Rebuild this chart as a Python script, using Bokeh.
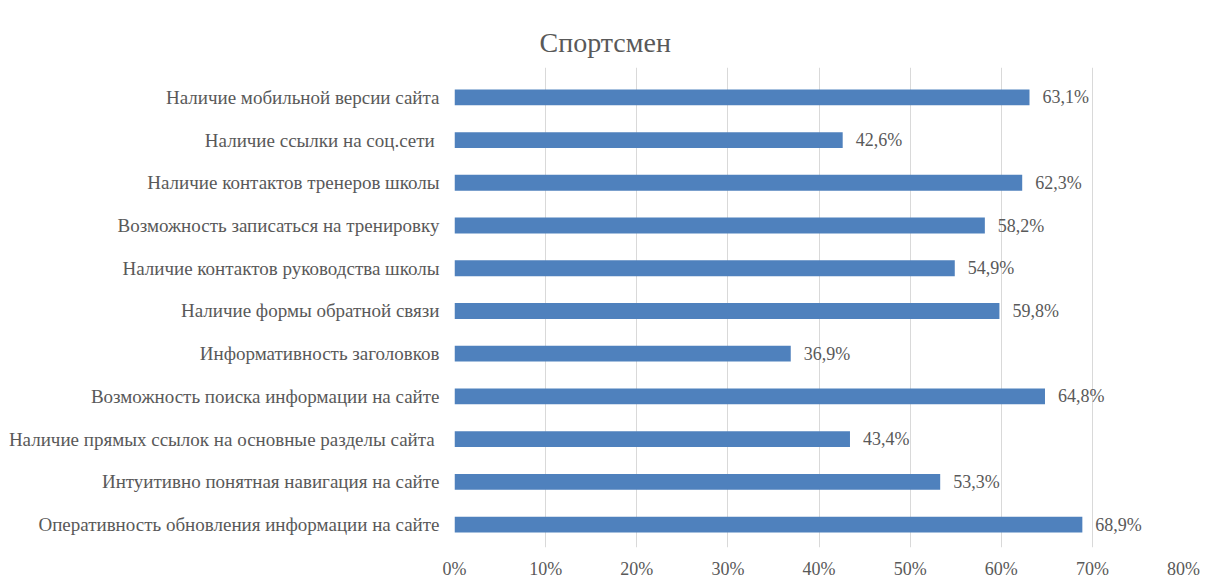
from bokeh.plotting import figure
from bokeh.models import ColumnDataSource, FixedTicker, Range1d, Title, LabelSet
from bokeh.core.properties import value
from bokeh.embed import file_html
from bokeh.resources import INLINE

# Data (top to bottom as shown in the chart)
categories = [
    "Наличие мобильной версии сайта",
    "Наличие ссылки на соц.сети ",
    "Наличие контактов тренеров школы",
    "Возможность записаться на тренировку",
    "Наличие контактов руководства школы",
    "Наличие формы обратной связи",
    "Информативность заголовков",
    "Возможность поиска информации на сайте",
    "Наличие прямых ссылок на основные разделы сайта ",
    "Интуитивно понятная навигация на сайте",
    "Оперативность обновления информации на сайте",
]
values = [63.1, 42.6, 62.3, 58.2, 54.9, 59.8, 36.9, 64.8, 43.4, 53.3, 68.9]
x_ticks = [0, 10, 20, 30, 40, 50, 60, 70, 80]
title_text = "Спортсмен"

FONT = "Liberation Serif"
GRAY = "#595959"

n = len(categories)
ypos = [n - 1 - i for i in range(n)]
labels = [f"{v:.1f}".replace(".", ",") + "%" for v in values]

src = ColumnDataSource(dict(y=ypos, v=values, lab=labels, cat=categories))

p = figure(
    width=1216, height=581,
    x_range=Range1d(0, 80),
    y_range=Range1d(-0.535, -0.535 + 483 / 43),
    output_backend="svg", toolbar_location=None,
    min_border_left=454, min_border_right=33,
    min_border_top=67, min_border_bottom=31,
)
p.outline_line_color = None

p.hbar(y="y", right="v", left=0, height=0.37, source=src,
       fill_color="#4F81BD", line_color=None)

p.add_layout(LabelSet(x="v", y="y", text="lab", source=src, x_offset=13,
                      text_align="left", text_baseline="middle",
                      text_font=value(FONT), text_font_size="18px",
                      text_color=GRAY))

# X axis
p.xaxis.ticker = FixedTicker(ticks=x_ticks)
p.xaxis.major_label_overrides = {t: f"{t}%" for t in x_ticks}
p.xaxis.axis_line_color = None
p.xaxis.major_tick_line_color = None
p.xaxis.minor_tick_line_color = None
p.xaxis.major_tick_out = 0
p.xaxis.major_label_standoff = 11
p.xaxis.major_label_text_font = FONT
p.xaxis.major_label_text_font_size = "18px"
p.xaxis.major_label_text_color = GRAY

# Y axis
p.yaxis.ticker = FixedTicker(ticks=ypos)
p.yaxis.major_label_overrides = {y: c for y, c in zip(ypos, categories)}
p.yaxis.axis_line_color = None
p.yaxis.major_tick_line_color = None
p.yaxis.minor_tick_line_color = None
p.yaxis.major_tick_out = 0
p.yaxis.major_label_standoff = 15
p.yaxis.major_label_text_font = FONT
p.yaxis.major_label_text_font_size = "19px"
p.yaxis.major_label_text_color = GRAY

p.xgrid.ticker = FixedTicker(ticks=x_ticks)
p.xgrid.grid_line_color = "#D9D9D9"
p.ygrid.grid_line_color = None

p.title = Title(text=title_text, align="left", offset=85,
                text_font=FONT, text_font_size="28px",
                text_color=GRAY, text_font_style="normal", standoff=20)

open("out.html", "w").write(file_html(p, INLINE))
